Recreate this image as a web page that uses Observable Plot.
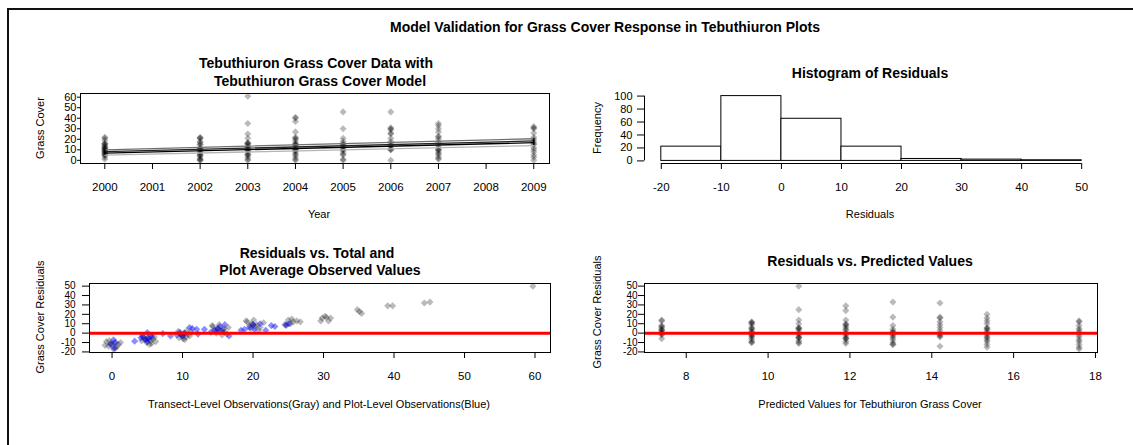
<!DOCTYPE html>
<html>
<head>
<meta charset="utf-8">
<script src="https://cdn.jsdelivr.net/npm/d3@7"></script>
<script src="https://cdn.jsdelivr.net/npm/@observablehq/plot@0.6"></script>
<style>
  body { margin: 0; background: #fff; }
  #root { position: relative; width: 1133px; height: 445px; background: #fff; overflow: hidden;
          font-family: "Liberation Sans", Arial, sans-serif; color: #000; }
  .t { position: absolute; white-space: nowrap; line-height: 1; transform: translate(-50%, -50%); }
</style>
</head>
<body>
<div id="root"></div>
<script>
// ---------------- DATA ----------------
const mainTitle = "Model Validation for Grass Cover Response in Tebuthiuron Plots";

// Panel 1: observed grass cover by year
const yearTicks = [2000, 2001, 2002, 2003, 2004, 2005, 2006, 2007, 2008, 2009];
const coverYears = [2000, 2002, 2003, 2004, 2005, 2006, 2007, 2009];
const cover2000 = [22, 21, 19, 16, 16, 15, 14, 13, 12, 12, 11, 10, 10, 9, 8, 8, 7, 6, 5, 5, 3, 1];
const cover2002 = [22, 21, 21, 18, 17, 15, 15, 12, 11, 10, 10, 8, 8, 6, 5, 5, 4, 2, 1, 0, 0];
const cover2003 = [61, 35, 25, 21, 17, 16, 16, 15, 13, 12, 11, 10, 10, 9, 8, 6, 5, 5, 3, 1, 0];
const cover2004 = [41, 40, 37, 27, 22, 21, 20, 18, 16, 15, 15, 14, 12, 11, 10, 10, 9, 8, 6, 5, 3, 1, 0];
const cover2005 = [46, 30, 21, 18, 16, 15, 14, 13, 11, 10, 10, 8, 6, 5, 1, 0];
const cover2006 = [46, 31, 30, 29, 26, 25, 21, 18, 16, 14, 13, 11, 10, 10, 0];
const cover2007 = [35, 33, 30, 27, 23, 22, 20, 17, 14, 12, 10, 10, 9, 7, 6, 4, 2, 1];
const cover2009 = [32, 31, 30, 26, 22, 20, 18, 16, 15, 12, 10, 8, 5, 3, 0];
const coverTicks = [0, 10, 20, 30, 40, 50, 60];
// model lines (start 2000, end 2009)
const modelYears = [2000, 2009];
const modelLower = [5, 14];
const modelMidLow = [6.8, 16.8];
const modelMidHigh = [8.2, 18.4];
const modelUpper = [10, 20.5];

// Panel 2: histogram of residuals
const binStarts = [-20, -10, 0, 10, 20, 30, 40];
const binEnds = [-10, 0, 10, 20, 30, 40, 50];
const binCounts = [22, 100, 65, 22, 3, 2, 1];
const histXTicks = [-20, -10, 0, 10, 20, 30, 40, 50];
const histYTicks = [0, 20, 40, 60, 80, 100];

// Panel 3: residuals vs observed (gray: transect level, blue: plot level)
const grayObs = [
  -0.8, 0.3, 0.9, -0.5, 0.5, -0.2, 1.2, -1.0, 0.2, 0.7, -0.4, 0.0,
  4.3, 5.1, 5.8, 4.7, 5.5, 6.2, 4.9, 5.3, 4.5, 6.0, 5.6, 4.2, 5.0,
  9.4, 10.2, 10.8, 9.8, 11.0, 10.5, 9.5, 10.1, 11.3, 9.7, 10.6, 10.3, 10.0,
  14.3, 15.0, 15.7, 14.6, 15.4, 16.0, 14.8, 15.6, 16.5, 14.2, 15.2, 16.3, 15.9, 14.9,
  19.2, 19.8, 20.5, 19.5, 20.3, 21.0, 19.7, 20.8, 21.5, 19.0, 20.1, 20.0,
  24.7, 25.3, 25.7, 26.2, 26.7, 25.0, 24.5, 25.5,
  29.6, 29.8, 30.4, 30.7, 31.0, 30.2,
  34.8, 35.1, 35.4, 39.1, 39.8, 44.3, 45.1, 59.7
];
const grayRes = [
  -9, -10, -12, -14, -16, -11, -10, -13, -17, -14, -8, -12,
  -3, -5, -6, -7, -8, -9, -10, -12, -5, -4, -11, -8, -6,
  2, 0, -1, -2, -3, -4, -5, -6, 1, -1, 2.5, -7, -3,
  7, 5, 4, 3, 2, 1, 0, -2, 6, 8, 9, -1, 5, 3,
  12, 10, 9, 8, 7, 6, 5, 3, 11, 13, 14, 9,
  8, 10, 12, 13, 12, 14, 9, 15,
  13, 16, 17, 13, 16, 18,
  25, 23, 21, 29, 29, 32, 33, 50
];
const blueObs = [
  0.2, 0.3, -0.2, 0.5,
  3.2, 4.1, 4.4, 5.0, 5.2, 5.0, 5.6, 4.8, 5.5,
  7.2, 8.3, 9.2, 9.6, 10.0, 10.3, 11.0, 11.4, 12.0, 12.2, 13.1,
  14.0, 14.5, 15.0, 15.3, 15.6, 16.0, 16.6,
  18.3, 18.8, 19.5, 20.0, 20.2, 21.0, 21.8, 22.6, 23.1,
  24.7, 25.1
];
const blueRes = [
  -7, -16, -12, -10,
  -8.5, -5, -3.5, 0.5, -6, -9, -4, -7, -2,
  -0.5, -3, -2, 1, -3, 0, 6, 5, 4, -1, 4,
  1, 3, 5, 7, 2, 9, -3,
  3, 4, 6, 9, 4, 10, 3, 8, 7,
  9, 10
];
const obsTicks = [0, 10, 20, 30, 40, 50, 60];
const resTicks = [-20, -10, 0, 10, 20, 30, 40, 50];

// Panel 4: residuals vs predicted
const predicted = [7.4, 9.6, 10.75, 11.9, 13.05, 14.2, 15.35, 17.6];
const resAt1 = [14, 13, 8, 7, 6, 4, 3, 3, 1, 0, -1, -2, -6];
const resAt2 = [12, 11, 11, 9, 6, 5, 4, 2, 1, -1, -2, -3, -4, -6, -8, -10, -10];
const resAt3 = [50, 25, 14, 10, 6, 5, 5, 3, 0, -2, -4, -5, -5, -8, -10, -11];
const resAt4 = [29, 24, 14, 10, 9, 8, 6, 4, 3, 0, -1, -3, -5, -6, -6, -9, -11];
const resAt5 = [33, 17, 8, 4, 2, 1, 0, -2, -3, -5, -7, -10, -12, -12];
const resAt6 = [32, 17, 16, 12, 9, 6, 3, 0, -2, -3, -4, -14];
const resAt7 = [20, 16, 13, 10, 6, 5, 4, 2, 0, -2, -4, -5, -7, -9, -12, -15];
const resAt8 = [13, 12, 8, 5, 3, 1, -2, -4, -7, -9, -12, -15, -17];
const predTicks = [8, 10, 12, 14, 16, 18];

// ---------------- BUILD TABLES ----------------
const coverLists = [cover2000, cover2002, cover2003, cover2004, cover2005, cover2006, cover2007, cover2009];
const coverPts = coverYears.flatMap((yr, i) => coverLists[i].map(v => ({x: yr, y: v})));
const modelLines = [
  {vals: modelLower, color: "#b4b4b4"},
  {vals: modelUpper, color: "#707070"},
  {vals: modelMidLow, color: "#000"},
  {vals: modelMidHigh, color: "#222"}
].flatMap((l, k) => modelYears.map((yr, i) => ({x: yr, y: l.vals[i], k, color: l.color})));
const bins = binStarts.map((s, i) => ({x1: s, x2: binEnds[i], y: binCounts[i]}));
const grayPts = grayObs.map((x, i) => ({x, y: grayRes[i]}));
const bluePts = blueObs.map((x, i) => ({x, y: blueRes[i]}));
const resLists = [resAt1, resAt2, resAt3, resAt4, resAt5, resAt6, resAt7, resAt8];
const predPts = predicted.flatMap((p, i) => resLists[i].map(r => ({x: p, y: r})));

// ---------------- LAYOUT HELPERS ----------------
const root = document.getElementById("root");
const FONT = '"Liberation Sans", Arial, sans-serif';

function addText(txt, x, y, {size = 11, bold = false, rotate = false} = {}) {
  const d = document.createElement("div");
  d.className = "t";
  d.textContent = txt;
  d.style.left = x + "px";
  d.style.top = y + "px";
  d.style.fontSize = size + "px";
  if (bold) d.style.fontWeight = "bold";
  if (rotate) d.style.transform = "translate(-50%, -50%) rotate(-90deg)";
  root.appendChild(d);
}

function addPlot(frame, m, opts) {
  const [x0, y0, x1, y1] = frame;
  const svg = Plot.plot({
    width: x1 - x0 + m.l + m.r,
    height: y1 - y0 + m.t + m.b,
    marginLeft: m.l, marginRight: m.r, marginTop: m.t, marginBottom: m.b,
    style: {fontFamily: FONT, fontSize: "11.5px", color: "#000", background: "transparent", overflow: "visible"},
    ...opts
  });
  svg.style.position = "absolute";
  svg.style.left = (x0 - m.l) + "px";
  svg.style.top = (y0 - m.t) + "px";
  root.appendChild(svg);
}

const fmt = d => String(d);
const dotOpts = {x: "x", y: "y", symbol: "diamond2", r: 3.2, fill: "#000", fillOpacity: 0.27, stroke: "none"};

// outer border (top and left)
const border = document.createElement("div");
Object.assign(border.style, {position: "absolute", left: "7px", top: "8px", right: "-10px", bottom: "-10px",
  borderTop: "2px solid #111", borderLeft: "2px solid #111"});
root.appendChild(border);

addText(mainTitle, 605, 27, {size: 14, bold: true});

// ---------------- PANEL 1 ----------------
addPlot([80, 93, 549, 163], {l: 60, r: 10, t: 5, b: 45}, {
  x: {domain: [1999.49, 2009.33]},
  y: {domain: [-3, 63.5]},
  marks: [
    Plot.dot(coverPts, dotOpts),
    Plot.line(modelLines, {x: "x", y: "y", z: "k", stroke: "color", strokeWidth: 1.3}),
    Plot.ruleX([modelYears[0]], {y1: modelLower[0], y2: modelUpper[0], stroke: "#000", strokeWidth: 1.5}),
    Plot.ruleX([modelYears[1]], {y1: modelLower[1], y2: modelUpper[1], stroke: "#000", strokeWidth: 1.5}),
    Plot.frame({stroke: "#000"}),
    Plot.axisX({ticks: yearTicks, tickFormat: fmt, tickSize: 6, tickPadding: 13, label: null}),
    Plot.axisY({ticks: coverTicks, tickFormat: fmt, tickSize: 3, tickPadding: 1, label: null, fontSize: 11})
  ]
});
addText("Tebuthiuron Grass Cover Data with", 316, 63, {size: 14, bold: true});
addText("Tebuthiuron Grass Cover Model", 320, 81, {size: 14, bold: true});
addText("Year", 319, 214, {size: 11});
addText("Grass Cover", 40, 128, {size: 11, rotate: true});

// ---------------- PANEL 2 ----------------
addPlot([644, 93, 1098, 163], {l: 60, r: 20, t: 5, b: 45}, {
  x: {domain: [-22.8, 52.8]},
  y: {domain: [-4, 104]},
  marks: [
    Plot.rectY(bins, {x1: "x1", x2: "x2", y1: 0, y2: "y", fill: "#fff", stroke: "#000", strokeWidth: 1, insetLeft: 0, insetRight: 0}),
    Plot.ruleY([-4], {x1: histXTicks[0], x2: histXTicks[histXTicks.length - 1], stroke: "#000"}),
    Plot.ruleX([-22.8], {y1: histYTicks[0], y2: histYTicks[histYTicks.length - 1], stroke: "#000"}),
    Plot.axisX({ticks: histXTicks, tickFormat: fmt, tickSize: 6, tickPadding: 13, label: null}),
    Plot.axisY({ticks: histYTicks, tickFormat: fmt, tickSize: 7, tickPadding: 5, label: null, fontSize: 11})
  ]
});
addText("Histogram of Residuals", 870, 73, {size: 14, bold: true});
addText("Residuals", 870, 214, {size: 11});
addText("Frequency", 597, 128, {size: 11, rotate: true});

// ---------------- PANEL 3 ----------------
addPlot([89, 283, 550, 352], {l: 60, r: 10, t: 5, b: 45}, {
  x: {domain: [-3.2, 62.2]},
  y: {domain: [-20.6, 52.8]},
  marks: [
    Plot.dot(grayPts, dotOpts),
    Plot.dot(bluePts, {...dotOpts, fill: "#0000ff", fillOpacity: 0.45}),
    Plot.ruleY([0], {stroke: "#ff0000", strokeWidth: 3}),
    Plot.frame({stroke: "#000"}),
    Plot.axisX({ticks: obsTicks, tickFormat: fmt, tickSize: 6, tickPadding: 13, label: null}),
    Plot.axisY({ticks: resTicks, tickFormat: fmt, tickSize: 7, tickPadding: 7, label: null, fontSize: 10})
  ]
});
addText("Residuals vs. Total and", 317, 253, {size: 14, bold: true});
addText("Plot Average Observed Values", 320, 270, {size: 14, bold: true});
addText("Transect-Level Observations(Gray) and Plot-Level Observations(Blue)", 319, 404, {size: 11});
addText("Grass Cover Residuals", 40, 317, {size: 11, rotate: true});

// ---------------- PANEL 4 ----------------
addPlot([644, 283, 1097, 352], {l: 60, r: 25, t: 5, b: 45}, {
  x: {domain: [6.98, 18.05]},
  y: {domain: [-20.6, 52.8]},
  marks: [
    Plot.dot(predPts, dotOpts),
    Plot.ruleY([0], {stroke: "#ff0000", strokeWidth: 3}),
    Plot.frame({stroke: "#000"}),
    Plot.axisX({ticks: predTicks, tickFormat: fmt, tickSize: 6, tickPadding: 13, label: null}),
    Plot.axisY({ticks: resTicks, tickFormat: fmt, tickSize: 6, tickPadding: 1, label: null, fontSize: 10})
  ]
});
addText("Residuals vs. Predicted Values", 870, 261, {size: 14, bold: true});
addText("Predicted Values for Tebuthiuron Grass Cover", 870, 404, {size: 11});
addText("Grass Cover Residuals", 597, 312, {size: 11, rotate: true});
</script>
</body>
</html>
